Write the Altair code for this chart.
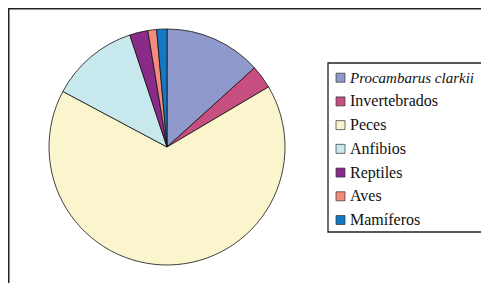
import altair as alt
import pandas as pd

categories = ["Procambarus clarkii", "Invertebrados", "Peces", "Anfibios", "Reptiles", "Aves", "Mamíferos"]
values = [13.3, 3.2, 66.3, 12.1, 2.5, 1.2, 1.4]
colors = ["#9099CC", "#C64F80", "#FAF5CD", "#C7E8EC", "#8A2B8A", "#F38B7E", "#1479C4"]
italic_flags = [True, False, False, False, False, False, False]

df = pd.DataFrame({
    "cat": categories,
    "val": values,
    "order": list(range(len(categories))),
    "italic": italic_flags,
})

color_scale = alt.Scale(domain=categories, range=colors)
FONT = "Liberation Serif"

pie = alt.Chart(df).mark_arc(stroke="#111111", strokeWidth=0.8, outerRadius=118).encode(
    theta=alt.Theta("val:Q", stack=True),
    order=alt.Order("order:Q"),
    color=alt.Color("cat:N", scale=color_scale, legend=None),
    x=alt.value(159),
    y=alt.value(139),
)

one = pd.DataFrame({"a": [0]})

frame_top = alt.Chart(one).mark_rule(color="#222222", strokeWidth=1.5).encode(
    x=alt.value(0), x2=alt.value(500), y=alt.value(0.75))
frame_left = alt.Chart(one).mark_rule(color="#222222", strokeWidth=1.5).encode(
    x=alt.value(0.75), y=alt.value(0), y2=alt.value(300))

legend_box = alt.Chart(one).mark_rect(fill="white", stroke="#222222", strokeWidth=1.3).encode(
    x=alt.value(320), x2=alt.value(520), y=alt.value(55), y2=alt.value(224))

yscale = alt.Scale(type="point", domain=categories, range=[69.7, 212], padding=0)

swatches = alt.Chart(df).mark_square(size=81, stroke="#333333", strokeWidth=0.7, opacity=1).encode(
    x=alt.value(332.5),
    y=alt.Y("cat:N", scale=yscale, axis=None),
    color=alt.Color("cat:N", scale=color_scale, legend=None),
)

labels_normal = alt.Chart(df).transform_filter("!datum.italic").mark_text(
    align="left", baseline="middle", font=FONT, fontSize=16, color="#111111"
).encode(
    x=alt.value(342),
    y=alt.Y("cat:N", scale=yscale, axis=None),
    text="cat:N",
)

labels_italic = alt.Chart(df).transform_filter("datum.italic").mark_text(
    align="left", baseline="middle", font=FONT, fontSize=15, fontStyle="italic", color="#111111"
).encode(
    x=alt.value(342),
    y=alt.Y("cat:N", scale=yscale, axis=None),
    text="cat:N",
)

chart = alt.layer(
    frame_top, frame_left, pie, legend_box, swatches, labels_normal, labels_italic
).properties(
    width=473, height=275, padding=0, autosize=alt.AutoSizeParams(type="none")
).configure_view(stroke=None)

chart.save("out.html", embed_options={"renderer": "svg", "actions": False})
